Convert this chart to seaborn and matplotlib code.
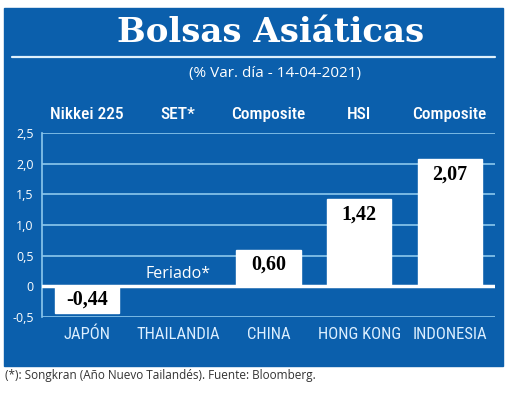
import numpy as np
import pandas as pd
import seaborn as sns
import matplotlib.pyplot as plt
from matplotlib.patches import Rectangle
from matplotlib.lines import Line2D

# datos
paises = ["JAPÓN", "THAILANDIA", "CHINA", "HONG KONG", "INDONESIA"]
indices = ["Nikkei 225", "SET*", "Composite", "HSI", "Composite"]
variacion = [-0.44, np.nan, 0.60, 1.42, 2.07]
etiquetas = ["-0,44", "", "0,60", "1,42", "2,07"]
ticks_y = [-0.5, 0, 0.5, 1.0, 1.5, 2.0, 2.5]
ticks_txt = ["-0,5", "0", "0,5", "1,0", "1,5", "2,0", "2,5"]

AZUL = "#0b5fac"
CELESTE = "#8cc8ee"
ANGOSTA = ["Roboto Condensed", "PT Sans Narrow", "Archivo Narrow", "DejaVu Sans"]
SANS = ["Open Sans", "DejaVu Sans"]

df = pd.DataFrame({"pais": paises, "var": variacion})

sns.set_style("white")
plt.rcParams["font.family"] = ["DejaVu Sans"]

fig = plt.figure(figsize=(5.2, 3.96), dpi=100)
fig.patch.set_facecolor("white")

# panel azul
fig.patches.append(Rectangle((4 / 520, 1 - 366 / 396), 499 / 520, 358 / 396,
                             transform=fig.transFigure, color=AZUL, zorder=-5))
fig.lines.append(Line2D([12 / 520, 495 / 520], [1 - 57 / 396] * 2,
                        transform=fig.transFigure, color="#dff0fb", lw=1.6, zorder=-4))

fig.text(0.52, 1 - 33 / 396, "Bolsas Asiáticas", color="white", ha="center", va="center",
         fontsize=24.5, fontweight="bold", family=["DejaVu Serif"])
fig.text(0.529, 1 - 73 / 396, "(% Var. día - 14-04-2021)", color="white", ha="center",
         va="center", fontsize=11, family=SANS)
fig.text(5 / 520, 1 - 376 / 396, "(*): Songkran (Año Nuevo Tailandés). Fuente: Bloomberg.",
         color="#333333", ha="left", va="center", fontsize=8.5, family=SANS)

ax = fig.add_axes([42 / 520, 1 - 317 / 396, 453 / 520, 184 / 396])
ax.set_facecolor("none")
ax.set_zorder(2)

for y in ticks_y:
    if y == 0:
        continue
    ax.axhline(y, color=CELESTE, lw=1.2, zorder=1)

sns.barplot(data=df, x="pais", y="var", order=paises, color="white", width=0.71,
            saturation=1, ax=ax, zorder=2)
ax.axhline(0, color="white", lw=2.5, zorder=3)

ax.set_xlim(-0.5, 4.5)
ax.set_ylim(-0.5, 2.5)
for s in ["top", "right", "bottom"]:
    ax.spines[s].set_visible(False)
ax.spines["left"].set_color(CELESTE)
ax.spines["left"].set_linewidth(1.2)

ax.set_yticks(ticks_y)
ax.set_yticklabels(ticks_txt, color="white", fontsize=9, family=SANS)
ax.tick_params(axis="y", length=0, pad=6)
ax.set_xticks(range(len(paises)))
ax.set_xticklabels(paises, color="#dcefff", fontsize=12, family=ANGOSTA)
ax.tick_params(axis="x", length=0, pad=7)
ax.set_xlabel("")
ax.set_ylabel("")

for i, (v, t) in enumerate(zip(variacion, etiquetas)):
    if np.isnan(v):
        continue
    if v > 0:
        ax.annotate(t, (i, v), xytext=(0, -4), textcoords="offset points", ha="center",
                    va="top", fontsize=14.5, fontweight="bold", color="black",
                    family=["Liberation Serif"], zorder=4)
    else:
        ax.text(i, v / 2, t, ha="center", va="center", fontsize=14.5, fontweight="bold",
                color="black", family=["Liberation Serif"], zorder=4)

ax.text(1, 0.2, "Feriado*", ha="center", va="center", color="white", fontsize=11.5,
        family=SANS)

for i, nombre in enumerate(indices):
    ax.text(i, 1.06, nombre, transform=ax.get_xaxis_transform(), ha="center", va="bottom",
            color="white", fontsize=12.5, fontweight="medium", family=ANGOSTA)

fig.savefig("out.png", dpi=100, facecolor="white")
